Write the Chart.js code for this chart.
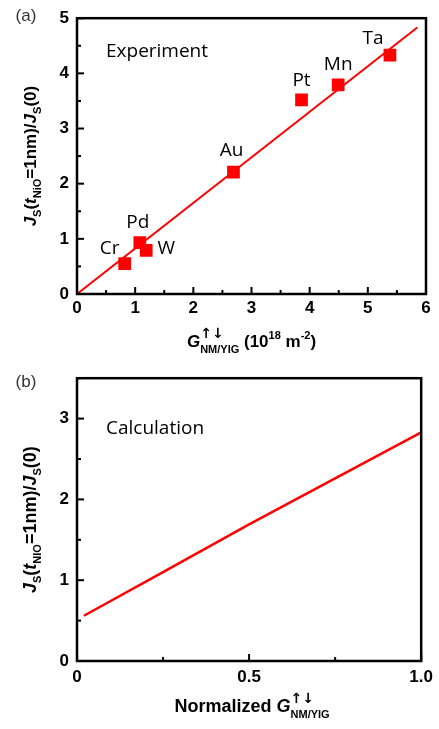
<!DOCTYPE html>
<html>
<head>
<meta charset="utf-8">
<script src="https://cdn.jsdelivr.net/npm/chart.js@4"></script>
<style>
  html, body { margin: 0; padding: 0; background: #fff; }
  #wrap { position: relative; width: 439px; height: 729px; }
  canvas { position: absolute; left: 0; }
  #chartA { top: 0; }
  #chartB { top: 360px; }
</style>
</head>
<body>
<div id="wrap">
  <canvas id="chartA" width="439" height="360"></canvas>
  <canvas id="chartB" width="439" height="369"></canvas>
</div>
<script>
// panel (a) - experiment
const metals = ['Cr', 'Pd', 'W', 'Au', 'Pt', 'Mn', 'Ta'];
const metalG = [0.82, 1.08, 1.19, 2.69, 3.86, 4.49, 5.38];
const metalJ = [0.55, 0.93, 0.79, 2.21, 3.52, 3.79, 4.33];
const fitG = [0, 5.85];
const fitJ = [0, 4.83];
const xTicksA = [0, 1, 2, 3, 4, 5, 6];
const yTicksA = [0, 1, 2, 3, 4, 5];

// panel (b) - calculation
const normG = [0.02, 0.25, 0.5, 0.75, 1.0];
const calcJ = [0.56, 1.10, 1.69, 2.26, 2.83];
const xTicksB = [0, 0.5, 1.0];
const xTickLabelsB = ['0', '0.5', '1.0'];
const yTicksB = [0, 1, 2, 3];

const RED = '#ff0000';
const FAM = '"Liberation Sans", Arial, "DejaVu Sans", sans-serif';
const tickFont = { family: FAM, size: 17, weight: 'bold' };

// label offsets from each marker (px)
const labelOffsets = [[-15, -15], [-2, -20], [20, -2], [-2, -22], [0, -19], [0, -20], [-17, -17]];

function measure(ctx, parts) {
  let w = 0;
  parts.forEach(p => {
    if (p.sup !== undefined) {
      ctx.font = p.fsup;
      const a = ctx.measureText(p.sup).width;
      ctx.font = p.f;
      p.w = Math.max(a, ctx.measureText(p.sub).width);
    } else {
      ctx.font = p.f;
      p.w = ctx.measureText(p.t).width;
    }
    w += p.w;
  });
  return w;
}

function drawRich(ctx, parts, cx, cy) {
  const w = measure(ctx, parts);
  let x = cx - w / 2;
  ctx.textAlign = 'left';
  ctx.textBaseline = 'alphabetic';
  ctx.fillStyle = '#000';
  parts.forEach(p => {
    if (p.sup !== undefined) {
      ctx.font = p.fsup;
      ctx.fillText(p.sup, x, cy + p.supDy);
      ctx.font = p.f;
      ctx.fillText(p.sub, x, cy + p.subDy);
    } else {
      ctx.font = p.f;
      ctx.fillText(p.t, x, cy + (p.dy || 0));
    }
    x += p.w;
  });
}

function yTitleParts(size, nio) {
  const B = 'bold ' + size + 'px ' + FAM;
  const BI = 'italic bold ' + size + 'px ' + FAM;
  const SUB = 'bold ' + Math.round(size * 0.62) + 'px ' + FAM;
  return [
    { t: 'J', f: BI }, { t: 'S', f: SUB, dy: 5 }, { t: '(', f: B }, { t: 't', f: BI },
    { t: nio, f: SUB, dy: 5 }, { t: '=1nm)/', f: B }, { t: 'J', f: BI },
    { t: 'S', f: SUB, dy: 5 }, { t: '(0)', f: B }
  ];
}

function gParts(size) {
  const BI = 'italic bold ' + size + 'px ' + FAM;
  const SM = 'bold ' + Math.round(size * 0.62) + 'px ' + FAM;
  const AR = 'bold ' + Math.round(size * 0.8) + 'px "DejaVu Sans", sans-serif';
  return [{ t: 'G', f: BI }, { sup: '↑↓', fsup: AR, sub: 'NM/YIG', f: SM, supDy: -9, subDy: 6 }];
}

function inwardTicks(chart, xMinor, yMinor) {
  const ctx = chart.ctx;
  const a = chart.chartArea;
  const xs = chart.scales.x, ys = chart.scales.y;
  ctx.save();
  ctx.strokeStyle = '#000';
  ctx.lineWidth = 2;
  for (let v = xs.min; v <= xs.max + 1e-9; v += xMinor) {
    const major = Math.abs(v / (xMinor * 2) - Math.round(v / (xMinor * 2))) < 1e-6;
    const px = xs.getPixelForValue(v);
    ctx.beginPath();
    ctx.moveTo(px, a.bottom);
    ctx.lineTo(px, a.bottom - (major ? 7 : 4));
    ctx.stroke();
  }
  for (let v = ys.min; v <= ys.max + 1e-9; v += yMinor) {
    const major = Math.abs(v / (yMinor * 2) - Math.round(v / (yMinor * 2))) < 1e-6;
    const py = ys.getPixelForValue(v);
    ctx.beginPath();
    ctx.moveTo(a.left, py);
    ctx.lineTo(a.left + (major ? 7 : 4), py);
    ctx.stroke();
  }
  ctx.lineWidth = 2.5;
  ctx.strokeRect(a.left, a.top, a.right - a.left, a.bottom - a.top);
  ctx.restore();
}

function panelText(ctx, tag, note, noteX, noteY) {
  ctx.save();
  ctx.fillStyle = '#333';
  ctx.font = '17px ' + FAM;
  ctx.textAlign = 'center';
  ctx.textBaseline = 'middle';
  ctx.fillText(tag, 26, tag === '(a)' ? 16 : 22);
  ctx.fillStyle = '#000';
  ctx.font = '19px "Open Sans", sans-serif';
  ctx.textAlign = 'left';
  ctx.fillText(note, noteX, noteY);
  ctx.restore();
}

const decorA = {
  id: 'decorA',
  afterDraw(chart) {
    const ctx = chart.ctx;
    inwardTicks(chart, 0.5, 0.5);
    panelText(ctx, '(a)', 'Experiment', 106, 52);
    // metal labels
    const meta = chart.getDatasetMeta(0);
    ctx.save();
    ctx.font = '19px "Open Sans", sans-serif';
    ctx.fillStyle = '#000';
    ctx.textAlign = 'center';
    ctx.textBaseline = 'middle';
    meta.data.forEach((pt, i) => {
      const o = labelOffsets[i];
      ctx.fillText(metals[i], pt.x + o[0], pt.y + o[1]);
    });
    ctx.restore();
    // y title
    ctx.save();
    ctx.translate(30, (chart.chartArea.top + chart.chartArea.bottom) / 2);
    ctx.rotate(-Math.PI / 2);
    drawRich(ctx, yTitleParts(17, 'NiO'), 0, 6);
    ctx.restore();
    // x title
    const B = 'bold 17px ' + FAM;
    const SUP = 'bold 11px ' + FAM;
    const parts = gParts(17).concat([
      { t: ' (10', f: B }, { t: '18', f: SUP, dy: -8 }, { t: ' m', f: B },
      { t: '-2', f: SUP, dy: -8 }, { t: ')', f: B }
    ]);
    drawRich(ctx, parts, (chart.chartArea.left + chart.chartArea.right) / 2, 347);
  }
};

const decorB = {
  id: 'decorB',
  afterDraw(chart) {
    const ctx = chart.ctx;
    inwardTicks(chart, 0.25, 0.5);
    panelText(ctx, '(b)', 'Calculation', 106, 69);
    ctx.save();
    ctx.translate(30, (chart.chartArea.top + chart.chartArea.bottom) / 2);
    ctx.rotate(-Math.PI / 2);
    drawRich(ctx, yTitleParts(18, 'NIO'), 0, 6);
    ctx.restore();
    const B = 'bold 18px ' + FAM;
    const parts = [{ t: 'Normalized ', f: B }].concat(gParts(18));
    drawRich(ctx, parts, (chart.chartArea.left + chart.chartArea.right) / 2 + 3, 352);
  }
};

function baseScale(min, max, ticks, fmt, pad) {
  return {
    type: 'linear',
    min: min,
    max: max,
    grid: { display: false, drawTicks: false },
    border: { display: false },
    ticks: { font: tickFont, color: '#000', padding: pad, callback: fmt },
    afterBuildTicks: s => { s.ticks = ticks.map(v => ({ value: v })); }
  };
}

new Chart(document.getElementById('chartA'), {
  type: 'scatter',
  data: {
    datasets: [
      {
        data: metalG.map((g, i) => ({ x: g, y: metalJ[i] })),
        backgroundColor: RED,
        borderColor: RED,
        pointStyle: 'rect',
        pointRadius: 9,
        borderWidth: 0,
        order: 0
      },
      {
        data: fitG.map((g, i) => ({ x: g, y: fitJ[i] })),
        showLine: true,
        borderColor: RED,
        borderWidth: 2,
        pointRadius: 0,
        order: 1
      }
    ]
  },
  options: {
    responsive: false,
    animation: false,
    devicePixelRatio: 1,
    layout: { padding: { left: 37, right: 13, top: 15, bottom: 36 } },
    plugins: { legend: { display: false }, tooltip: { enabled: false } },
    scales: {
      x: Object.assign(baseScale(0, 6, xTicksA, v => String(v), 4),
        { afterFit: s => { s.height = 30; } }),
      y: Object.assign(baseScale(0, 5, yTicksA, v => String(v), 8),
        { afterFit: s => { s.width = 40; } })
    }
  },
  plugins: [decorA]
});

new Chart(document.getElementById('chartB'), {
  type: 'scatter',
  data: {
    datasets: [
      {
        data: normG.map((g, i) => ({ x: g, y: calcJ[i] })),
        showLine: true,
        borderColor: RED,
        borderWidth: 2.5,
        pointRadius: 0
      }
    ]
  },
  options: {
    responsive: false,
    animation: false,
    devicePixelRatio: 1,
    layout: { padding: { left: 37, right: 14, top: 16, bottom: 38 } },
    plugins: { legend: { display: false }, tooltip: { enabled: false } },
    scales: {
      x: Object.assign(baseScale(0, 1, xTicksB, v => xTickLabelsB[xTicksB.indexOf(v)], 6),
        { afterFit: s => { s.height = 30; } }),
      y: Object.assign(baseScale(0, 3.5, yTicksB, v => String(v), 8),
        { afterFit: s => { s.width = 40; } })
    }
  },
  plugins: [decorB]
});
</script>
</body>
</html>
